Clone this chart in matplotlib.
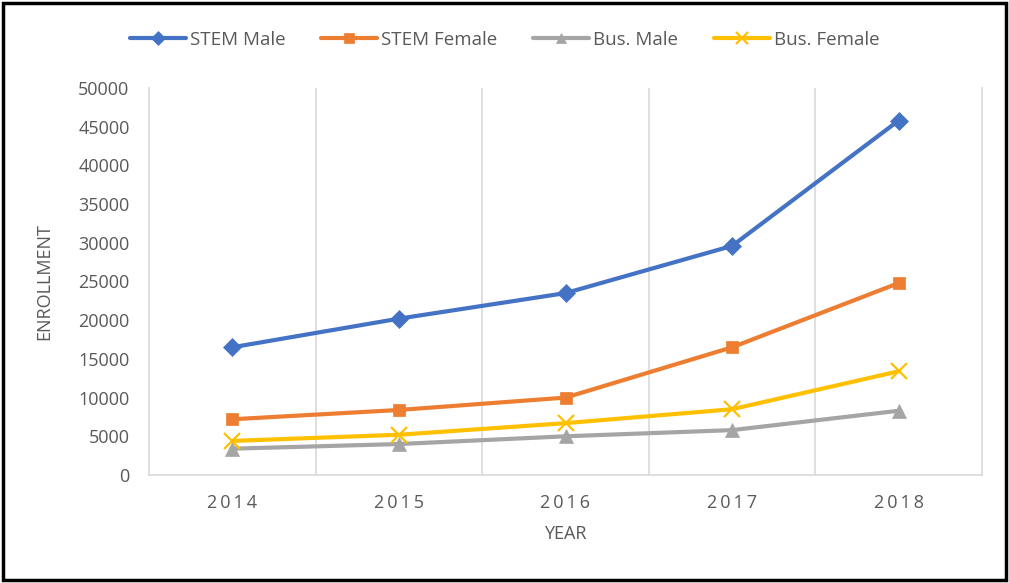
import matplotlib.pyplot as plt
from matplotlib.patches import Rectangle

years = ["2014", "2015", "2016", "2017", "2018"]
stem_male = [16500, 20200, 23500, 29600, 45800]
stem_female = [7200, 8400, 10000, 16500, 24800]
bus_male = [3400, 4000, 5000, 5800, 8300]
bus_female = [4400, 5200, 6700, 8500, 13400]

series = [
    ("STEM Male", stem_male, "#4472C4", "D", 9),
    ("STEM Female", stem_female, "#ED7D31", "s", 9),
    ("Bus. Male", bus_male, "#A5A5A5", "^", 10),
    ("Bus. Female", bus_female, "#FFC000", "x", 11),
]

plt.rcParams["font.family"] = ["Open Sans", "DejaVu Sans"]
text_col = "#595959"
grid_col = "#D9D9D9"

fig = plt.figure(figsize=(10.09, 5.83), dpi=100)
ax = fig.add_axes([149 / 1009, 1 - 475 / 583, (982 - 149) / 1009, (475 - 88) / 583])

x = list(range(len(years)))
for name, vals, col, mk, ms in series:
    ax.plot(x, vals, color=col, lw=3, marker=mk, markersize=ms,
            markeredgewidth=1.6 if mk == "x" else 0.5, markeredgecolor=col,
            label=name, solid_capstyle="round")

ax.set_xlim(-0.5, len(years) - 0.5)
ax.set_ylim(0, 50000)
ax.set_yticks(range(0, 50001, 5000))
ax.set_xticks(x)
# spaced digits, like the original
ax.set_xticklabels(["\u2009".join(y) for y in years])
for b in [i + 0.5 for i in range(len(years) - 1)]:
    ax.axvline(b, color=grid_col, lw=1.2, zorder=0)

ax.spines["top"].set_visible(False)
for s in ["left", "right", "bottom"]:
    ax.spines[s].set_color(grid_col)
    ax.spines[s].set_linewidth(1.2)

ax.tick_params(axis="both", length=0, colors=text_col, labelsize=13)
ax.tick_params(axis="x", pad=14)
ax.tick_params(axis="y", pad=14)
ax.set_xlabel("YEAR", color=text_col, fontsize=13, labelpad=9)
ax.set_ylabel("ENROLLMENT", color=text_col, fontsize=13, labelpad=18)

fig.legend(loc="center", bbox_to_anchor=(0.5, 1 - 40 / 583), ncol=4, frameon=False,
           fontsize=13.5, labelcolor=text_col, handlelength=3.0, columnspacing=1.9,
           handletextpad=0.2, markerscale=0.75)

fig.patches.append(Rectangle((0.003, 0.005), 0.994, 0.99, transform=fig.transFigure,
                             fill=False, edgecolor="black", lw=2.5))

fig.savefig("out.png", dpi=100)
